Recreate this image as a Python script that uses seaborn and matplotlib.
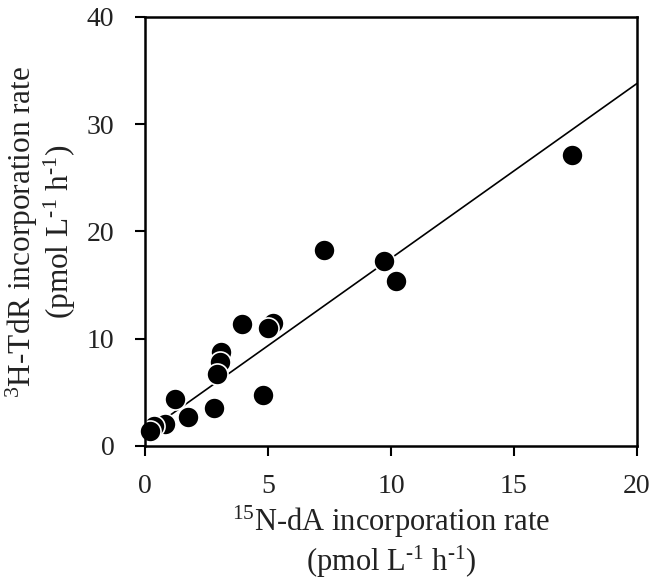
import numpy as np
import pandas as pd
import seaborn as sns
from matplotlib import pyplot as plt

# 15N-dA vs 3H-TdR incorporation rates (pmol L-1 h-1)
dA_rate = [17.36, 7.29, 9.73, 10.20, 3.96, 5.22, 5.01, 3.10, 3.06, 2.94,
           4.81, 2.80, 1.22, 1.73, 0.81, 0.37, 0.20]
tdr_rate = [27.15, 18.28, 17.26, 15.39, 11.35, 11.50, 11.04, 8.80, 7.86, 6.69,
            4.76, 3.52, 4.36, 2.66, 2.05, 1.82, 1.35]

# regression line as drawn in the figure
fit_slope = 1.63
fit_intercept = 1.2

x_ticks = [0, 5, 10, 15, 20]
y_ticks = [0, 10, 20, 30, 40]

sns.set_style("ticks")
plt.rcParams['font.family'] = ['Liberation Serif', 'DejaVu Serif']
plt.rcParams['mathtext.fontset'] = 'custom'
plt.rcParams['mathtext.rm'] = 'Liberation Serif'
plt.rcParams['mathtext.default'] = 'regular'

df = pd.DataFrame({'dA': dA_rate, 'TdR': tdr_rate})

fig = plt.figure(figsize=(6.56, 5.86), dpi=100)
ax = fig.add_axes([0.221, 0.239, 0.750, 0.732])

ax.axline((0, fit_intercept), slope=fit_slope, color='black', lw=1.2, zorder=1)
sns.scatterplot(data=df, x='dA', y='TdR', ax=ax, color='black', s=230,
                edgecolor='white', linewidth=1.2, zorder=2, clip_on=False)

ax.set_xlim(0, 20)
ax.set_ylim(0, 40)
ax.set_xticks(x_ticks)
ax.set_yticks(y_ticks)
ax.tick_params(direction='out', length=7, width=1.5, labelsize=20, color='black',
               labelcolor='#222222')
ax.tick_params(axis='x', pad=13)
ax.tick_params(axis='y', pad=15)
for side in ['left', 'right', 'top', 'bottom']:
    ax.spines[side].set_visible(True)
    ax.spines[side].set_linewidth(1.8)
    ax.spines[side].set_color('black')

ax.set_xlabel('${}^{15}$N-dA incorporation rate\n(pmol L$^{\\text{-}1}$ h$^{\\text{-}1}$)',
              fontsize=22, color='#222222', labelpad=4, linespacing=1.12)
ax.set_ylabel('${}^{3}$H-TdR incorporation rate\n(pmol L$^{\\text{-}1}$ h$^{\\text{-}1}$)',
              fontsize=22.5, color='#222222', labelpad=6, linespacing=1.1)

fig.savefig('out.png', dpi=100)
